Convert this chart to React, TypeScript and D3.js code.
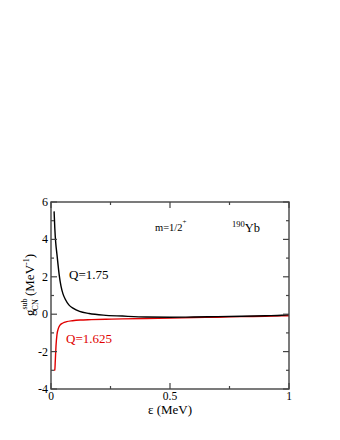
import React from 'react';
import * as d3 from 'd3';

// Q=1.75 curve (black)
const epsBlack = [0.013, 0.016, 0.02, 0.025, 0.03, 0.035, 0.042, 0.05, 0.06, 0.075, 0.094, 0.12, 0.16, 0.22, 0.3, 0.4, 0.5, 0.6, 0.7, 0.8, 0.9, 0.97, 1.0];
const gBlack = [5.5, 4.6, 3.8, 3.2, 2.6, 2.05, 1.5, 1.1, 0.8, 0.5, 0.31, 0.15, 0.04, -0.05, -0.1, -0.15, -0.16, -0.15, -0.13, -0.11, -0.08, -0.06, -0.02];

// Q=1.625 curve (red)
const epsRed = [0.013, 0.016, 0.018, 0.021, 0.025, 0.03, 0.038, 0.05, 0.066, 0.09, 0.122, 0.17, 0.23, 0.3, 0.4, 0.5, 0.6, 0.7, 0.8, 0.9, 1.0];
const gRed = [-3.0, -2.98, -2.5, -1.7, -1.1, -0.8, -0.58, -0.47, -0.4, -0.35, -0.31, -0.29, -0.27, -0.25, -0.23, -0.21, -0.18, -0.16, -0.13, -0.11, -0.08];

const xMajor = [0, 0.5, 1];
const xMinor = [0.25, 0.75];
const yMajor = [-4, -2, 0, 2, 4, 6];
const yMinor = [-3, -1, 1, 3, 5];

const margin = { top: 202, right: 51, bottom: 51, left: 51 };
const W = 340;
const H = 440;
const font = '"Liberation Serif", "DejaVu Serif", serif';
const frameColor = '#444';

export default function App() {
  const x = d3.scaleLinear().domain([0, 1]).range([margin.left, W - margin.right]);
  const y = d3.scaleLinear().domain([-4, 6]).range([H - margin.bottom, margin.top]);

  const line = d3.line<[number, number]>()
    .x(d => x(d[0]))
    .y(d => y(d[1]))
    .curve(d3.curveMonotoneX);

  const blackPath = line(epsBlack.map((e, i) => [e, gBlack[i]]) as [number, number][]) || '';
  const redPath = line(epsRed.map((e, i) => [e, gRed[i]]) as [number, number][]) || '';

  const x0 = x(0), x1 = x(1), yT = y(6), yB = y(-4);

  return (
    <svg width={W} height={H} style={{ position: 'absolute', left: 0, top: 0, fontFamily: font }}>
      <rect width={W} height={H} fill="#fff" />

      {/* curves */}
      <path d={redPath} fill="none" stroke="#e00000" strokeWidth={1.4} />
      <path d={blackPath} fill="none" stroke="#000" strokeWidth={1.4} />

      {/* frame */}
      <rect x={x0} y={yT} width={x1 - x0} height={yB - yT} fill="none" stroke={frameColor} strokeWidth={1.4} />

      {/* x ticks (bottom + top, inward) */}
      {xMajor.concat(xMinor).map(t => {
        const len = xMajor.includes(t) ? 6 : 3;
        return (
          <g key={'x' + t} stroke={frameColor} strokeWidth={1.2}>
            <line x1={x(t)} x2={x(t)} y1={yB} y2={yB - len} />
            <line x1={x(t)} x2={x(t)} y1={yT} y2={yT + len} />
          </g>
        );
      })}
      {/* y ticks (left + right, inward) */}
      {yMajor.concat(yMinor).map(t => {
        const len = yMajor.includes(t) ? 6 : 3;
        return (
          <g key={'y' + t} stroke={frameColor} strokeWidth={1.2}>
            <line x1={x0} x2={x0 + len} y1={y(t)} y2={y(t)} />
            <line x1={x1} x2={x1 - len} y1={y(t)} y2={y(t)} />
          </g>
        );
      })}

      {/* tick labels */}
      {xMajor.map(t => (
        <text key={'xl' + t} x={x(t)} y={yB + 11} textAnchor="middle" fontSize={11.5} fill="#000">
          {String(t)}
        </text>
      ))}
      {yMajor.map(t => (
        <text key={'yl' + t} x={x0 - 3} y={y(t) + 4} textAnchor="end" fontSize={12} fill="#000">
          {t < 0 ? '-' + Math.abs(t) : String(t)}
        </text>
      ))}

      {/* axis labels */}
      <text x={x(0.5)} y={414} textAnchor="middle" fontSize={13} fill="#000">ε (MeV)</text>
      <text transform="translate(34,285) rotate(-90)" textAnchor="middle" fontSize={13} fill="#000">
        <tspan>g</tspan>
        <tspan fontSize={8} dy={-7}>sub</tspan>
        <tspan fontSize={8} dx={-12} dy={11}>CN</tspan>
        <tspan dy={-4}> (MeV</tspan>
        <tspan fontSize={8} dy={-5}>-1</tspan>
        <tspan dy={5}>)</tspan>
      </text>

      {/* annotations */}
      <text x={69} y={279} fontSize={13} fill="#000">Q=1.75</text>
      <text x={66} y={343} fontSize={13} fill="#e00000">Q=1.625</text>
      <text x={155} y={231} fontSize={10.5} fill="#000">
        m=1/2<tspan fontSize={7} dy={-7}>+</tspan>
      </text>
      <text x={232} y={231.5} fontSize={12.5} fill="#000">
        <tspan fontSize={8.5} dy={-5}>190</tspan>
        <tspan dy={5}>Yb</tspan>
      </text>
    </svg>
  );
}
